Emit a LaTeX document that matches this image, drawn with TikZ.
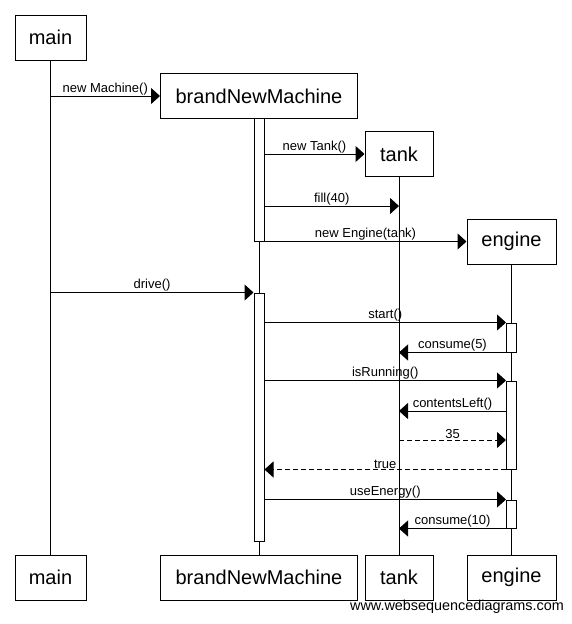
\documentclass[tikz,border=0pt]{standalone}
\usepackage{fontspec}
\setmainfont{Liberation Sans}
\usetikzlibrary{arrows.meta}

\tikzset{
  actor/.style={draw, fill=white, line width=1pt, inner sep=0pt, minimum height=45pt,
    font=\fontsize{20}{24}\selectfont},
  act/.style={draw, fill=white, line width=1pt, inner sep=0pt, minimum width=10pt},
  msg/.style={line width=1pt, -{Triangle[length=9pt,width=16pt]}},
  ret/.style={msg, dash pattern=on 5pt off 3pt},
  lbl/.style={font=\fontsize{13}{15}\selectfont, inner sep=0.5pt, above}
}

\begin{document}
\begin{tikzpicture}[x=1pt,y=-1pt]
  \useasboundingbox (0,0) rectangle (571,624);

  % Participants (top)
  \node[actor, minimum width=71pt] (mtop) at (50.5,37.5) {main};
  \node[actor, minimum width=197pt] (bnm) at (259,96) {brandNewMachine};
  \node[actor, minimum width=68pt] (tank) at (399,154) {tank};
  \node[actor, minimum width=89pt] (eng) at (511.5,241.5) {engine};

  % Participants (bottom)
  \node[actor, minimum width=71pt] (mbot) at (50.5,577.5) {main};
  \node[actor, minimum width=197pt] (bnmbot) at (259,577.5) {brandNewMachine};
  \node[actor, minimum width=68pt] (tankbot) at (399,577.5) {tank};
  \node[actor, minimum width=89pt] (engbot) at (511.5,577.5) {engine};

  % Lifelines
  \draw[line width=1pt] (mtop.south) -- (mbot.north);
  \draw[line width=1pt] (bnm.south) -- (bnmbot.north);
  \draw[line width=1pt] (tank.south) -- (tankbot.north);
  \draw[line width=1pt] (eng.south) -- (engbot.north);

  % Activations
  \node[act, minimum height=123pt] (a1) at (259,179.5) {};
  \node[act, minimum height=248pt] (a2) at (259,417) {};
  \node[act, minimum height=29pt] (e1) at (511.5,337.5) {};
  \node[act, minimum height=88pt] (e2) at (511.5,425) {};
  \node[act, minimum height=28pt] (e3) at (511.5,514) {};

  % Points on the tank lifeline
  \coordinate (fillpt) at (399,206);
  \coordinate (leftpt) at (399,411);
  \coordinate (retpt) at (399,440);

  % Messages
  \draw[msg] (mtop.south |- bnm.west) -- node[lbl] {new Machine()} (bnm.west);
  \draw[msg] (a1.east |- tank.west) -- node[lbl] {new Tank()} (tank.west);
  \draw[msg] (a1.east |- fillpt) -- node[lbl] {fill(40)} (fillpt);
  \draw[msg] (a1.south east) -- node[lbl] {new Engine(tank)} (eng.west);
  \draw[msg] (mtop.south |- a2.north west) -- node[lbl] {drive()} (a2.north west);
  \draw[msg] (a2.east |- e1.north west) -- node[lbl] {start()} (e1.north west);
  \draw[msg] (e1.south west) -- node[lbl] {consume(5)} (tank.south |- e1.south west);
  \draw[msg] (a2.east |- e2.north west) -- node[lbl] {isRunning()} (e2.north west);
  \draw[msg] (e2.west |- leftpt) -- node[lbl] {contentsLeft()} (leftpt);
  \draw[ret] (retpt) -- node[lbl] {35} (e2.west |- retpt);
  \draw[ret] (e2.south west) -- node[lbl] {true} (a2.east |- e2.south west);
  \draw[msg] (a2.east |- e3.north west) -- node[lbl] {useEnergy()} (e3.north west);
  \draw[msg] (e3.south west) -- node[lbl] {consume(10)} (tank.south |- e3.south west);

  % Watermark
  \node[anchor=east, inner sep=0pt, font=\fontsize{14.4}{16}\selectfont] (wsd) at (564,607) {www.websequencediagrams.com};
\end{tikzpicture}
\end{document}
